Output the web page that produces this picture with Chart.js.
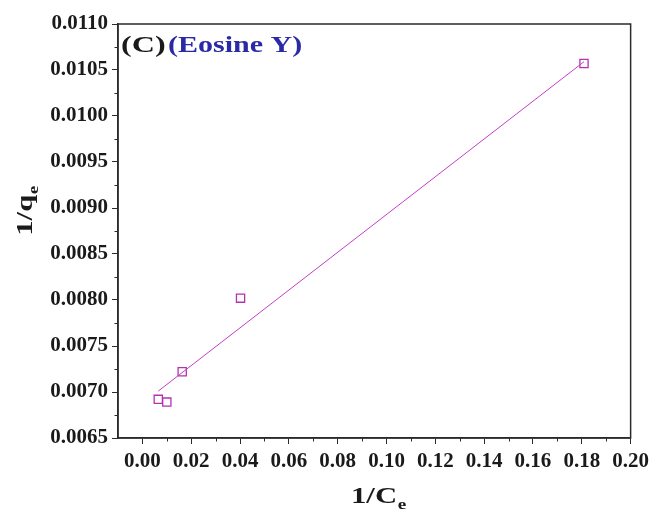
<!DOCTYPE html>
<html><head><meta charset="utf-8">
<script src="https://cdn.jsdelivr.net/npm/chart.js@4/dist/chart.umd.min.js"></script>
<style>html,body{margin:0;padding:0;background:#fff;}canvas{display:block;}</style>
</head><body>
<canvas id="c" width="654" height="512" style="width:654px;height:512px"></canvas>
<script>
// ---- data ----
const xValues = [0.0065, 0.0100, 0.0163, 0.0402, 0.1809];
const yValues = [0.00692, 0.00689, 0.00722, 0.00802, 0.01057];
const fitX = [0.0065, 0.1809];
const fitY = [0.00701, 0.01059];
const xTicks = [0.00, 0.02, 0.04, 0.06, 0.08, 0.10, 0.12, 0.14, 0.16, 0.18, 0.20];
const yTicks = [0.0065, 0.0070, 0.0075, 0.0080, 0.0085, 0.0090, 0.0095, 0.0100, 0.0105, 0.0110];
const xMinorTicks = [0.01, 0.03, 0.05, 0.07, 0.09, 0.11, 0.13, 0.15, 0.17, 0.19];
const yMinorTicks = [0.00675, 0.00725, 0.00775, 0.00825, 0.00875, 0.00925, 0.00975, 0.01025, 0.01075];
const xTitle = ['1/C', 'e'];
const yTitle = ['1/q', 'e'];
const panelLabel = '(C)';
const dyeLabel = '(Eosine Y)';

const AXIS = '#2b2b2b';
const SERIF = '"Liberation Serif", "Times New Roman", serif';

function drawSub(ctx, parts, size, sx, anchorX, anchorY, rotate) {
  ctx.save();
  ctx.translate(anchorX, anchorY);
  if (rotate) ctx.rotate(-Math.PI / 2);
  ctx.scale(sx, 1);
  const mainFont = 'bold ' + size + 'px ' + SERIF;
  const subFont = 'bold ' + Math.round(size * 0.62) + 'px ' + SERIF;
  ctx.font = mainFont; const w1 = ctx.measureText(parts[0]).width;
  ctx.font = subFont; const w2 = ctx.measureText(parts[1]).width;
  const x0 = -(w1 + w2) / 2;
  ctx.fillStyle = '#1a1a1a';
  ctx.textBaseline = 'alphabetic';
  ctx.textAlign = 'left';
  ctx.font = mainFont; ctx.fillText(parts[0], x0, 0);
  ctx.font = subFont; ctx.fillText(parts[1], x0 + w1 + 0.5, size * 0.24);
  ctx.restore();
}

const decor = {
  id: 'decor',
  afterDraw(chart) {
    const ctx = chart.ctx, a = chart.chartArea;
    const xs = chart.scales.x, ys = chart.scales.y;
    ctx.save();
    ctx.strokeStyle = AXIS;
    ctx.lineWidth = 1.5;
    ctx.strokeRect(a.left, a.top, a.right - a.left, a.bottom - a.top);
    ctx.lineWidth = 1;
    xMinorTicks.forEach(v => {
      const px = Math.round(xs.getPixelForValue(v)) + 0.5;
      ctx.beginPath(); ctx.moveTo(px, a.bottom); ctx.lineTo(px, a.bottom + 3.5); ctx.stroke();
    });
    yMinorTicks.forEach(v => {
      const py = Math.round(ys.getPixelForValue(v)) + 0.5;
      ctx.beginPath(); ctx.moveTo(a.left, py); ctx.lineTo(a.left - 3.5, py); ctx.stroke();
    });
    // annotation
    ctx.textBaseline = 'alphabetic';
    ctx.textAlign = 'left';
    ctx.font = 'bold 24px ' + SERIF;
    ctx.save(); ctx.translate(a.left + 3, a.top + 28); ctx.scale(1.34, 1);
    ctx.fillStyle = '#1a1a1a'; ctx.fillText(panelLabel, 0, 0); ctx.restore();
    ctx.save(); ctx.translate(a.left + 50, a.top + 28); ctx.scale(1.25, 1);
    ctx.fillStyle = '#2a2aa6'; ctx.fillText(dyeLabel, 0, 0); ctx.restore();
    ctx.restore();
    // axis titles
    drawSub(ctx, xTitle, 24, 1.28, (a.left + a.right) / 2 + 4, 503, false);
    drawSub(ctx, yTitle, 24, 1.28, 32, (a.top + a.bottom) / 2 - 20, true);
  }
};

const tickFont = { family: SERIF, size: 21, weight: 'bold' };

new Chart(document.getElementById('c'), {
  type: 'scatter',
  data: {
    datasets: [
      {
        label: 'fit',
        type: 'line',
        data: fitX.map((x, i) => ({ x, y: fitY[i] })),
        borderColor: '#c43ec4',
        borderWidth: 1,
        pointRadius: 0,
        fill: false,
        tension: 0
      },
      {
        label: 'data',
        data: xValues.map((x, i) => ({ x, y: yValues[i] })),
        pointStyle: 'rect',
        pointRadius: 5.8,
        borderWidth: 1.3,
        borderColor: '#b232b2',
        backgroundColor: 'rgba(255,255,255,0)'
      }
    ]
  },
  options: {
    responsive: false,
    animation: false,
    events: [],
    layout: { padding: { top: 24, right: 21, left: 0, bottom: 0 } },
    plugins: { legend: { display: false }, tooltip: { enabled: false }, title: { display: false } },
    scales: {
      x: {
        type: 'linear',
        min: -0.01, max: 0.20,
        afterBuildTicks: s => { s.ticks = xTicks.map(v => ({ value: v })); },
        afterFit: s => { s.height = 74; },
        ticks: { font: tickFont, color: '#1a1a1a', padding: 5, autoSkip: false, maxRotation: 0,
                 callback: v => Number(v).toFixed(2) },
        grid: { drawOnChartArea: false, drawTicks: true, tickLength: 6, tickColor: AXIS, tickWidth: 1 },
        border: { display: true, color: AXIS, width: 1.5 }
      },
      y: {
        type: 'linear',
        min: 0.0065, max: 0.0110,
        afterBuildTicks: s => { s.ticks = yTicks.map(v => ({ value: v })); },
        afterFit: s => { s.width = 118; },
        ticks: { font: tickFont, color: '#1a1a1a', padding: 4, autoSkip: false,
                 callback: v => Number(v).toFixed(4) },
        grid: { drawOnChartArea: false, drawTicks: true, tickLength: 6, tickColor: AXIS, tickWidth: 1 },
        border: { display: true, color: AXIS, width: 1.5 }
      }
    }
  },
  plugins: [decor]
});
</script>
</body></html>
